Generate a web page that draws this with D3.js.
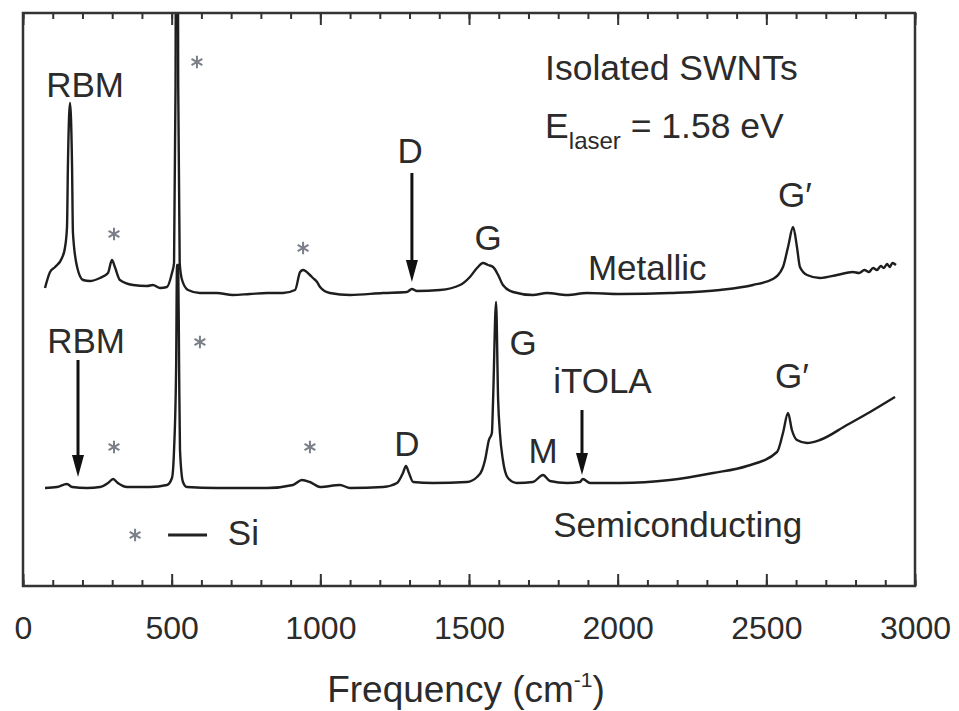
<!DOCTYPE html>
<html>
<head>
<meta charset="utf-8">
<script src="https://cdn.jsdelivr.net/npm/d3@7/dist/d3.min.js"></script>
<style>
  body { margin: 0; background: #fff; }
  text { font-family: "Liberation Sans", Arial, sans-serif; fill: #2b2b2b; }
</style>
</head>
<body>
<div id="chart"></div>
<script>
// spectra (frequency in cm-1, intensity in arbitrary units)
var metallicFreq = [74, 91, 108, 131, 141, 148, 151, 158, 165, 168, 182, 202, 225, 259, 286, 299, 309, 326, 370, 417, 437, 461, 484, 501,
  508, 513, 516, 519, 522, 527, 535, 555, 595, 652, 706, 763, 821, 874, 915, 932, 942, 965, 975, 989, 999, 1032, 1100, 1211,
  1291, 1308, 1325, 1402, 1470, 1503, 1527, 1547, 1564, 1581, 1598, 1614, 1648, 1715, 1762, 1830, 1897, 2008, 2176, 2344,
  2455, 2522, 2556, 2573, 2590, 2603, 2613, 2637, 2680, 2738, 2791, 2812, 2830, 2845, 2859, 2872, 2885, 2895, 2906, 2915, 2924, 2936];
var metallicInt = [298, 314, 319, 328, 338, 359, 419, 483, 419, 353, 319, 306, 305, 308, 313, 326, 319, 306, 301, 300, 301, 298, 299, 313,
  323, 500, 900, 900, 500, 323, 306, 296, 293, 293, 291, 292, 293, 293, 296, 314, 316, 311, 308, 304, 299, 293, 291, 293,
  294, 297, 295, 296, 301, 309, 318, 323, 321, 319, 311, 301, 294, 291, 293, 291, 293, 292, 293, 296,
  301, 307, 319, 339, 359, 339, 319, 311, 308, 311, 314, 313, 316, 314, 318, 316, 320, 318, 322, 319, 323, 321];

var semiFreq = [74, 114, 148, 165, 215, 259, 286, 303, 319, 350, 427, 484, 501, 508, 515, 518, 522, 525, 528, 538, 551, 652, 821, 908,
  938, 965, 999, 1066, 1100, 1211, 1258, 1278, 1288, 1298, 1312, 1379, 1493, 1527, 1544, 1554, 1567, 1577, 1581, 1591, 1598,
  1604, 1614, 1631, 1661, 1715, 1749, 1772, 1830, 1873, 1883, 1907, 2008, 2176, 2321, 2435, 2536, 2556, 2573, 2586, 2603,
  2637, 2680, 2771, 2849, 2933];
var semiInt = [98, 99, 102, 99, 98, 99, 103, 107, 103, 99, 99, 101, 108, 136, 219, 321, 321, 219, 136, 104, 99, 98, 98, 101,
  106, 104, 99, 101, 98, 99, 103, 113, 120, 113, 104, 103, 104, 109, 116, 126, 146, 153, 186, 284, 186,
  153, 126, 108, 103, 104, 111, 105, 103, 104, 107, 103, 103, 106, 113, 120, 134, 153, 173, 156, 146,
  143, 146, 161, 174, 189];

var tickValues = [0, 500, 1000, 1500, 2000, 2500, 3000];
var minorTicks = d3.range(0, 3001, 100);

// peak labels: [text, frequency, intensity at baseline, anchor]
var labelText = ["RBM", "D", "G", "Metallic", "G\u2032", "RBM", "G", "D", "M", "iTOLA", "G\u2032", "Semiconducting", "Si"];
var labelFreq = [209, 1302, 1564, 1900, 2596, 212, 1682, 1291, 1749, 1783, 2586, 1783, 689];
var labelInt = [489, 423, 336, 306, 379, 233, 231, 130, 123, 193, 198, 49, 41];
var labelAnchor = ["middle", "middle", "middle", "start", "middle", "middle", "middle", "middle", "middle", "start", "middle", "start", "start"];

// arrows: frequency, start intensity, tip intensity
var arrowFreq = [1308, 185, 1880];
var arrowFrom = [413, 226, 176];
var arrowTo = [304, 109, 111];

// Si markers (asterisks)
var starFreq = [585, 306, 942, 595, 306, 965, 377];
var starInt = [524, 352, 338, 244, 139, 139, 51];

var width = 959, height = 711;
var margin = {top: 13, right: 44, bottom: 125, left: 23};

var x = d3.scaleLinear().domain([0, 3000]).range([margin.left, width - margin.right]);
var y = d3.scaleLinear().domain([0, 573]).range([height - margin.bottom, margin.top]);

var svg = d3.select("#chart").append("svg")
  .attr("width", width)
  .attr("height", height);

svg.append("clipPath").attr("id", "clip")
  .append("rect")
  .attr("x", x(0)).attr("y", y(573))
  .attr("width", x(3000) - x(0)).attr("height", y(0) - y(573));

function series(fr, it) {
  return fr.map(function (f, i) { return [f, it[i]]; });
}

var line = d3.line()
  .curve(d3.curveMonotoneX)
  .x(function (d) { return x(d[0]); })
  .y(function (d) { return y(d[1]); });

var plot = svg.append("g").attr("clip-path", "url(#clip)");

plot.append("path")
  .datum(series(semiFreq, semiInt))
  .attr("fill", "none")
  .attr("stroke", "#1e1e1e")
  .attr("stroke-width", 2.4)
  .attr("stroke-linejoin", "round")
  .attr("d", line);

plot.append("path")
  .datum(series(metallicFreq, metallicInt))
  .attr("fill", "none")
  .attr("stroke", "#1e1e1e")
  .attr("stroke-width", 2.4)
  .attr("stroke-linejoin", "round")
  .attr("d", line);

// frame
svg.append("rect")
  .attr("x", x(0)).attr("y", y(573))
  .attr("width", x(3000) - x(0)).attr("height", y(0) - y(573))
  .attr("fill", "none")
  .attr("stroke", "#333")
  .attr("stroke-width", 2.5);

// inward ticks, bottom and top
function ticks(axis, ty, vals, len, fmt) {
  var g = svg.append("g")
    .attr("transform", "translate(0," + ty + ")")
    .call(axis(x).tickValues(vals).tickSize(-len).tickPadding(30).tickFormat(fmt));
  g.select(".domain").remove();
  g.selectAll(".tick line").attr("stroke", "#333").attr("stroke-width", 2);
  return g;
}
ticks(d3.axisBottom, y(0), minorTicks, 6, function () { return ""; });
ticks(d3.axisTop, y(573), minorTicks, 6, function () { return ""; });
ticks(d3.axisTop, y(573), tickValues, 12, function () { return ""; });
var bottom = ticks(d3.axisBottom, y(0), tickValues, 12, d3.format("d"));
bottom.selectAll(".tick text")
  .attr("fill", "#2b2b2b")
  .style("font-family", "'Liberation Sans Narrow', 'Liberation Sans', Arial, sans-serif")
  .style("font-size", "32px");

// axis title
var title = svg.append("text")
  .attr("x", (x(0) + x(3000)) / 2 - 3)
  .attr("y", 702)
  .attr("text-anchor", "middle")
  .style("font-family", "'Liberation Sans Narrow', 'Liberation Sans', Arial, sans-serif")
  .style("font-size", "37px");
title.append("tspan").text("Frequency (cm");
title.append("tspan").attr("dy", -15).style("font-size", "21px").text("-1");
title.append("tspan").attr("dy", 15).text(")");

// annotations
labelText.forEach(function (t, i) {
  svg.append("text")
    .attr("x", x(labelFreq[i]))
    .attr("y", y(labelInt[i]))
    .attr("text-anchor", labelAnchor[i])
    .style("font-size", "35px")
    .text(t);
});

svg.append("text")
  .attr("x", x(1756)).attr("y", y(506))
  .style("font-size", "35.5px")
  .text("Isolated SWNTs");

var el = svg.append("text")
  .attr("x", x(1756)).attr("y", y(448))
  .style("font-size", "35.5px");
el.append("tspan").text("E");
el.append("tspan").attr("dy", 11).style("font-size", "24px").text("laser");
el.append("tspan").attr("dy", -11).text(" = 1.58 eV");

// arrows
arrowFreq.forEach(function (f, i) {
  var x0 = x(f), y0 = y(arrowFrom[i]), y1 = y(arrowTo[i]);
  svg.append("line")
    .attr("x1", x0).attr("x2", x0)
    .attr("y1", y0).attr("y2", y1 - 18)
    .attr("stroke", "#111").attr("stroke-width", 3);
  svg.append("path")
    .attr("d", "M" + (x0 - 6) + "," + (y1 - 22) + "L" + (x0 + 6) + "," + (y1 - 22) + "L" + x0 + "," + y1 + "Z")
    .attr("fill", "#111");
});

// Si legend dash
svg.append("line")
  .attr("x1", x(488)).attr("x2", x(619))
  .attr("y1", y(51)).attr("y2", y(51))
  .attr("stroke", "#222").attr("stroke-width", 3);

// asterisks
var star = d3.symbol().type(d3.symbolAsterisk).size(110);
starFreq.forEach(function (f, i) {
  svg.append("path")
    .attr("transform", "translate(" + x(f) + "," + y(starInt[i]) + ")")
    .attr("d", star)
    .attr("fill", "none")
    .attr("stroke", "#7a7f88")
    .attr("stroke-width", 2);
});
</script>
</body>
</html>
